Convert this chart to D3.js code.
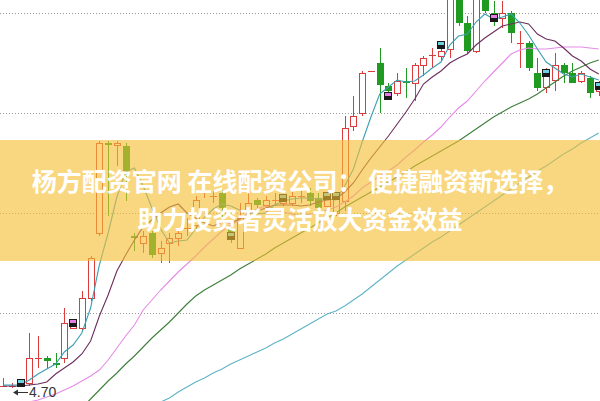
<!DOCTYPE html>
<html>
<head>
<meta charset="utf-8">
<script src="https://cdn.jsdelivr.net/npm/d3@7/dist/d3.min.js"></script>
<style>
html,body{margin:0;padding:0;background:#fff;}
svg{display:block;}
</style>
</head>
<body>
<svg id="chart" width="600" height="401"></svg>
<script>
// ---- data (prices) ----
const open  = [4.71,4.71,4.72,4.72,4.82,4.82,4.80,4.82,4.94,4.94,
               5.06,5.32,5.68,5.67,5.67,5.31,5.28,5.32,5.24,5.28,
               5.30,5.34,5.35,5.49,5.47,5.48,5.34,5.26,5.41,5.45,
               5.43,5.45,5.44,5.44,5.47,5.48,5.46,5.43,5.40,5.45,
               5.75,5.80,5.97,6.00,5.91,5.88,5.93,5.92,5.99,6.03,
               6.03,6.06,6.28,6.16,6.05,6.27,6.20,6.18,6.20,6.08,
               6.08,5.96,5.90,5.93,5.99,5.96,5.93,5.94,5.89];
const close = [4.71,4.71,4.71,4.82,4.82,4.81,4.79,4.96,4.96,5.06,
               5.22,5.68,5.67,5.68,5.57,5.30,5.31,5.23,5.26,5.30,
               5.32,5.34,5.45,5.49,5.47,5.42,5.30,5.38,5.44,5.43,
               5.45,5.45,5.46,5.47,5.47,5.45,5.42,5.46,5.46,5.74,
               5.79,5.96,5.97,5.91,5.89,5.93,5.92,5.99,6.02,6.03,
               6.05,6.27,6.16,6.05,6.27,6.21,6.18,6.20,6.12,6.08,
               5.98,5.90,5.95,5.99,5.96,5.92,5.96,5.88,5.92];
const high  = [4.74,4.72,4.73,4.92,4.91,4.83,4.84,5.02,4.97,5.09,
               5.23,5.69,5.69,5.69,5.68,5.32,5.33,5.33,5.29,5.32,
               5.34,5.38,5.47,5.52,5.49,5.50,5.35,5.44,5.48,5.46,
               5.47,5.48,5.48,5.49,5.49,5.50,5.48,5.48,5.48,5.79,
               5.87,5.97,5.97,6.06,5.92,5.96,5.98,6.00,6.03,6.06,
               6.07,6.29,6.30,6.19,6.29,6.29,6.25,6.25,6.21,6.13,
               6.09,6.02,5.98,6.04,6.00,6.00,5.97,5.95,5.93];
const low   = [4.71,4.70,4.71,4.71,4.78,4.78,4.78,4.80,4.94,4.93,
               5.05,5.31,5.39,5.59,5.45,5.25,5.24,5.22,5.20,5.20,
               5.27,5.31,5.33,5.46,5.44,5.38,5.28,5.26,5.38,5.41,
               5.40,5.43,5.43,5.43,5.44,5.43,5.40,5.41,5.39,5.41,
               5.73,5.79,5.97,5.80,5.88,5.87,5.86,5.85,5.95,5.98,
               6.01,6.02,6.15,6.04,6.04,6.20,6.15,6.14,6.08,5.98,
               5.97,5.89,5.88,5.89,5.92,5.92,5.92,5.86,5.87];

// moving-average lines
const ma5  = [4.712,4.712,4.712,4.732,4.756,4.776,4.796,4.844,4.872,4.920,
              5.020,5.192,5.320,5.464,5.564,5.580,5.508,5.420,5.336,5.280,
              5.288,5.292,5.336,5.384,5.416,5.436,5.428,5.412,5.404,5.396,
              5.400,5.432,5.448,5.456,5.460,5.460,5.456,5.456,5.452,5.508,
              5.576,5.684,5.784,5.876,5.904,5.932,5.924,5.928,5.952,5.980,
              6.004,6.072,6.108,6.116,6.164,6.196,6.176,6.184,6.196,6.160,
              6.112,6.056,6.004,5.980,5.956,5.944,5.956,5.944,5.932];
const ma10 = [4.708,4.708,4.708,4.712,4.716,4.724,4.756,4.780,4.804,4.836,
              4.888,4.988,5.072,5.168,5.232,5.292,5.344,5.372,5.400,5.424,
              5.436,5.400,5.380,5.360,5.348,5.364,5.360,5.376,5.396,5.408,
              5.420,5.432,5.432,5.432,5.428,5.432,5.444,5.452,5.456,5.484,
              5.520,5.572,5.620,5.664,5.708,5.756,5.804,5.856,5.916,5.944,
              5.968,6.000,6.020,6.036,6.072,6.100,6.124,6.148,6.156,6.164,
              6.156,6.116,6.096,6.088,6.060,6.028,6.008,5.976,5.956];
const ma20 = [4.620,4.628,4.636,4.644,4.652,4.664,4.676,4.692,4.708,4.728,
              4.748,4.772,4.812,4.860,4.908,4.952,5.012,5.052,5.092,5.128,
              5.164,5.196,5.228,5.264,5.296,5.328,5.352,5.372,5.396,5.416,
              5.428,5.416,5.404,5.396,5.388,5.396,5.400,5.412,5.424,5.444,
              5.468,5.500,5.524,5.548,5.568,5.592,5.624,5.652,5.684,5.712,
              5.744,5.784,5.820,5.848,5.888,5.928,5.964,6.000,6.036,6.052,
              6.060,6.056,6.056,6.060,6.064,6.064,6.064,6.060,6.056];
const ma30 = [4.316,4.348,4.384,4.416,4.452,4.484,4.520,4.552,4.588,4.620,
              4.656,4.692,4.728,4.760,4.796,4.828,4.864,4.900,4.932,4.964,
              5.000,5.036,5.068,5.092,5.112,5.132,5.152,5.176,5.196,5.216,
              5.236,5.260,5.280,5.300,5.320,5.340,5.360,5.380,5.400,5.424,
              5.444,5.464,5.484,5.504,5.524,5.544,5.564,5.588,5.608,5.628,
              5.648,5.668,5.688,5.712,5.736,5.760,5.784,5.804,5.824,5.840,
              5.856,5.876,5.900,5.924,5.948,5.968,5.984,6.000,6.012];
const ma60 = [4.284,4.304,4.324,4.344,4.364,4.384,4.404,4.424,4.444,4.464,
              4.484,4.504,4.524,4.544,4.564,4.584,4.604,4.624,4.644,4.660,
              4.684,4.704,4.724,4.740,4.760,4.776,4.796,4.812,4.828,4.844,
              4.860,4.880,4.896,4.916,4.936,4.956,4.976,4.996,5.008,5.028,
              5.052,5.076,5.104,5.132,5.160,5.188,5.212,5.236,5.260,5.284,
              5.304,5.328,5.352,5.376,5.400,5.424,5.448,5.472,5.496,5.520,
              5.544,5.568,5.588,5.612,5.636,5.656,5.680,5.700,5.720];

const gridPrices = [5.0, 5.4, 5.8, 6.2];
const markerIdx   = [2, 8, 26, 32, 37, 38, 44, 50, 56, 62, 68];
const markerPrice = [4.72, 4.96, 5.31, 5.46, 5.47, 5.47, 5.87, 6.07, 6.18, 5.96, 5.91];
const markerKind  = ["teal","pink","teal","teal","teal","teal","pink","teal","pink","teal","teal"];
const minLabel = "4.70";
const minIndex = 1;
const bannerLines = ["杨方配资官网 在线配资公司： 便捷融资新选择，", "助力投资者灵活放大资金效益"];

// ---- drawing ----
const W = 600, H = 401;
const svg = d3.select("#chart");
const x = d3.scaleLinear().domain([0, open.length - 1]).range([3, 598.7]);
const y = d3.scaleLinear().domain([5.0, 6.2]).range([313, 13]);

const RED = "#dc3b3b", GREEN = "#1f9b22";

// grid
svg.append("g").selectAll("line").data(gridPrices).join("line")
  .attr("x1", 0).attr("x2", W)
  .attr("y1", d => Math.round(y(d)) + 0.5).attr("y2", d => Math.round(y(d)) + 0.5)
  .attr("stroke", "#9a9a9a").attr("stroke-width", 1).attr("stroke-dasharray", "1,2");

// candles
const candles = open.map((o, i) => ({i, o, c: close[i], h: high[i], l: low[i]}));
const cg = svg.append("g").attr("shape-rendering", "crispEdges");
const bw = 6;
candles.forEach(d => {
  const cx = Math.round(x(d.i)) + 0.5;
  const up = d.c >= d.o;
  const col = up ? RED : GREEN;
  const yTop = y(Math.max(d.o, d.c)), yBot = y(Math.min(d.o, d.c));
  cg.append("line").attr("x1", cx).attr("x2", cx).attr("y1", y(d.h)).attr("y2", y(d.l))
    .attr("stroke", col).attr("stroke-width", 1);
  if (Math.abs(yBot - yTop) < 1.5) {
    cg.append("line").attr("x1", cx - bw/2 - 0.5).attr("x2", cx + bw/2 + 0.5)
      .attr("y1", Math.round(yTop) + 0.5).attr("y2", Math.round(yTop) + 0.5)
      .attr("stroke", col).attr("stroke-width", 1);
  } else if (up) {
    cg.append("rect").attr("x", cx - bw/2).attr("y", Math.round(yTop) + 0.5)
      .attr("width", bw).attr("height", Math.max(1, Math.round(yBot - yTop)))
      .attr("fill", "#fff").attr("stroke", col).attr("stroke-width", 1);
  } else {
    cg.append("rect").attr("x", cx - bw/2 - 0.5).attr("y", Math.round(yTop))
      .attr("width", bw + 1).attr("height", Math.max(1, Math.round(yBot - yTop)))
      .attr("fill", col);
  }
});

// moving average lines
const maSeries = [
  {v: ma60, c: "#5fb4c6"},
  {v: ma30, c: "#3e7f3a"},
  {v: ma20, c: "#e58be8"},
  {v: ma10, c: "#6a2f5e"},
  {v: ma5,  c: "#3a9fb2"}
];
const lineGen = d3.line().x((d, i) => x(i)).y(d => y(d));
svg.append("g").selectAll("path").data(maSeries).join("path")
  .attr("d", d => lineGen(d.v)).attr("fill", "none")
  .attr("stroke", d => d.c).attr("stroke-width", 1.1);

// signal markers
const mg = svg.append("g").attr("shape-rendering", "crispEdges");
markerIdx.forEach((mi, k) => {
  const cx = Math.round(x(mi)), cy = Math.round(y(markerPrice[k]));
  mg.append("rect").attr("x", cx - 4).attr("y", cy - 4).attr("width", 8).attr("height", 8).attr("fill", "#1a1a1a");
  mg.append("rect").attr("x", cx - 3).attr("y", cy - 3).attr("width", 6).attr("height", 3)
    .attr("fill", markerKind[k] === "pink" ? "#e57fe6" : "#6fd0e0");
});

// min price label
const ax = Math.round(x(minIndex)), ay = Math.round(y(low[minIndex])) + 4;
svg.append("line").attr("x1", ax + 2).attr("x2", ax + 16).attr("y1", ay + 0.5).attr("y2", ay + 0.5)
  .attr("stroke", "#333").attr("stroke-width", 1);
svg.append("path").attr("d", `M${ax + 1},${ay + 0.5} l5,-3 l0,6 z`).attr("fill", "#333");
svg.append("text").attr("x", ax + 17).attr("y", ay + 5).text(minLabel)
  .attr("font-family", "Liberation Sans, Arial, sans-serif").attr("font-size", 14).attr("fill", "#333");

// banner overlay
svg.append("rect").attr("x", 0).attr("y", 140).attr("width", W).attr("height", 121)
  .attr("fill", "rgb(245,190,52)").attr("fill-opacity", 0.62);
svg.append("g").selectAll("text").data(bannerLines).join("text")
  .attr("x", 300).attr("y", (d, i) => 191 + i * 37.5)
  .attr("text-anchor", "middle")
  .attr("font-family", "Noto Sans CJK SC, sans-serif").attr("font-weight", 700)
  .attr("font-size", 25).attr("fill", "#fff")
  .text(d => d);
</script>
</body>
</html>
